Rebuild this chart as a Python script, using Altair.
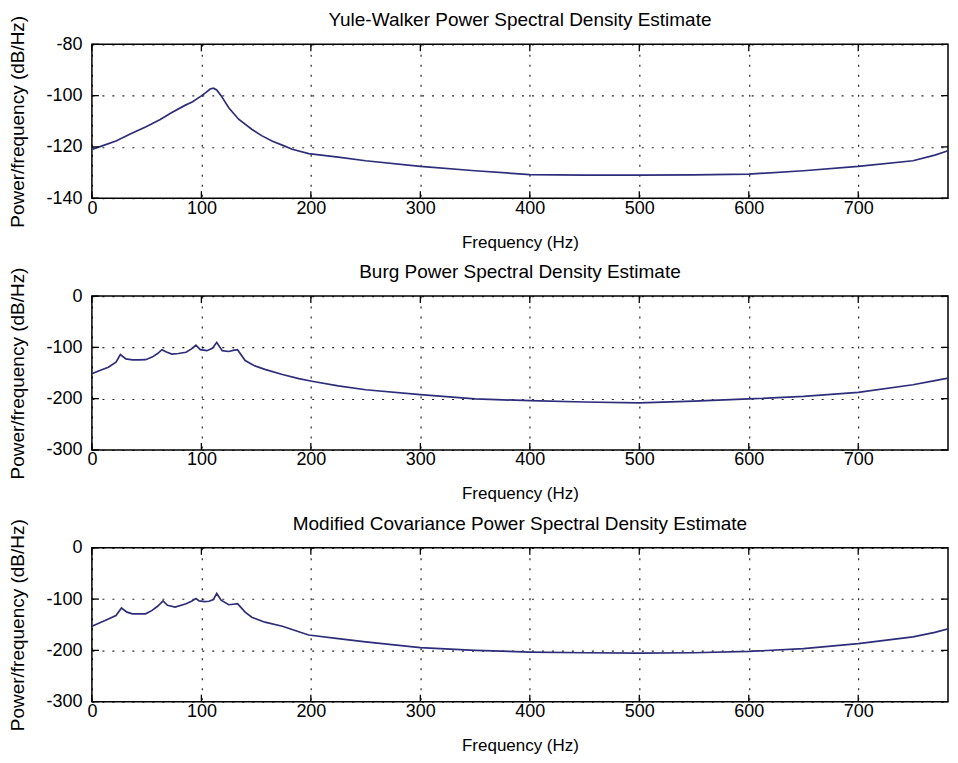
import altair as alt
import pandas as pd

# ---------------- data ----------------
yw_freq = [0, 10, 22, 35, 49, 62, 73, 85, 92, 100, 104, 108, 111, 114, 118, 125, 134, 146, 155, 165, 175, 183, 198,
           225, 250, 300, 350, 400, 450, 500, 550, 600, 650, 700, 750, 770, 780, 790]
yw_db = [-121.0, -119.5, -117.7, -115.0, -112.2, -109.4, -106.6, -103.8, -102.4, -100.1, -98.8, -97.4, -97.1, -97.8, -100.0,
         -104.7, -109.2, -113.1, -115.6, -117.8, -119.5, -120.9, -122.6, -124.0, -125.4, -127.6, -129.3, -130.8, -131.0,
         -131.0, -130.9, -130.6, -129.3, -127.6, -125.4, -123.2, -121.8, -119.8]

burg_freq = [0, 6, 15, 22, 26, 31, 37, 43, 49, 55, 60, 64, 68, 73, 79, 86, 91, 95, 99, 105, 110, 114, 119, 125, 129, 133,
             140, 148, 158, 174, 189, 201, 225, 250, 300, 350, 400, 450, 500, 550, 600, 650, 700, 750, 770, 790]
burg_db = [-151.6, -146.0, -138.7, -129.0, -114.0, -122.6, -124.5, -124.5, -124.0, -119.0, -112.0, -104.5, -109.0, -113.0,
           -112.0, -109.6, -103.0, -95.5, -104.5, -106.5, -102.0, -90.3, -106.5, -108.0, -106.0, -104.5, -125.8, -135.5,
           -143.0, -153.0, -161.0, -166.0, -175.0, -182.6, -192.0, -200.6, -203.9, -206.5, -208.4, -205.0, -200.6, -195.5,
           -187.7, -172.9, -165.0, -156.8]

mcov_freq = [0, 12, 22, 27, 32, 37, 43, 49, 55, 60, 65, 69, 76, 86, 91, 95, 98, 103, 107, 111, 114, 118, 125, 129, 133,
             140, 146, 158, 174, 189, 198, 225, 250, 300, 350, 400, 450, 500, 550, 600, 650, 700, 750, 770, 790]
mcov_db = [-153.0, -141.9, -132.0, -117.4, -125.4, -128.7, -128.7, -128.7, -122.0, -114.0, -103.6, -112.0, -115.4, -109.0,
           -104.0, -99.0, -103.5, -105.0, -104.2, -101.0, -89.0, -102.2, -111.0, -110.0, -109.0, -125.4, -135.3, -145.0,
           -153.0, -163.6, -170.0, -177.0, -183.5, -194.7, -200.0, -203.3, -204.6, -205.3, -204.6, -202.0, -196.7, -186.8,
           -173.6, -165.0, -153.8]

x_ticks = [0, 100, 200, 300, 400, 500, 600, 700]
yw_ticks = [-140, -120, -100, -80]
ar_ticks = [-300, -200, -100, 0]
titles = ["Yule-Walker Power Spectral Density Estimate",
          "Burg Power Spectral Density Estimate",
          "Modified Covariance Power Spectral Density Estimate"]
x_title = "Frequency (Hz)"
y_title = "Power/frequency (dB/Hz)"

# ---------------- style ----------------
W, H = 857, 154
X_MAX = 782
LINE = "#2d2d7a"
FONT = "Liberation Sans"
TICK = 7


def panel(freq, db, ydom, yticks, title):
    df = pd.DataFrame({"f": freq, "db": db})
    xs = alt.Scale(domain=[0, X_MAX], nice=False, zero=False)
    ys = alt.Scale(domain=ydom, nice=False, zero=False)
    xaxis = alt.Axis(values=x_ticks, title=x_title, grid=True, gridDash=[2, 8], gridColor="black",
                     gridOpacity=0.85, gridWidth=1.2, tickSize=0, labelPadding=1, domain=False,
                     labelFontSize=18, titleFontSize=17, titlePadding=17, labelFlush=False,
                     labelExpr="'' + datum.value")
    yaxis = alt.Axis(values=yticks, title=y_title, grid=True, gridDash=[2, 8], gridColor="black",
                     gridOpacity=0.85, gridWidth=1.2, tickSize=0, labelPadding=10, domain=False,
                     labelFontSize=18, titleFontSize=19, titlePadding=18, labelFlush=False,
                     labelExpr="'' + datum.value")
    line = alt.Chart(df).mark_line(color=LINE, strokeWidth=1.7, clip=True).encode(
        x=alt.X("f:Q", scale=xs, axis=xaxis),
        y=alt.Y("db:Q", scale=ys, axis=yaxis),
    )
    xt = pd.DataFrame({"f": x_ticks})
    yt = pd.DataFrame({"db": yticks})
    bottom = alt.Chart(xt).mark_rule(color="black", strokeWidth=1.3).encode(
        x=alt.X("f:Q", scale=xs), y=alt.value(H), y2=alt.value(H - TICK))
    top = alt.Chart(xt).mark_rule(color="black", strokeWidth=1.3).encode(
        x=alt.X("f:Q", scale=xs), y=alt.value(0), y2=alt.value(TICK))
    left = alt.Chart(yt).mark_rule(color="black", strokeWidth=1.3).encode(
        y=alt.Y("db:Q", scale=ys), x=alt.value(0), x2=alt.value(TICK))
    right = alt.Chart(yt).mark_rule(color="black", strokeWidth=1.3).encode(
        y=alt.Y("db:Q", scale=ys), x=alt.value(W - TICK), x2=alt.value(W))
    return alt.layer(line, bottom, top, left, right).properties(
        width=W, height=H,
        title=alt.Title(title, fontSize=19, fontWeight="normal", font=FONT, color="black",
                        offset=-30, baseline="alphabetic"),
    )


p1 = panel(yw_freq, yw_db, [-140, -80], yw_ticks, titles[0])
p2 = panel(burg_freq, burg_db, [-300, 0], ar_ticks, titles[1])
p3 = panel(mcov_freq, mcov_db, [-300, 0], ar_ticks, titles[2])

chart = alt.vconcat(p1, p2, p3, spacing=98, bounds="flush").properties(
    padding={"left": 0, "top": 2, "right": 0, "bottom": 0},
    background="white",
).configure_view(
    stroke="black", strokeWidth=1.5
).configure_axis(
    labelFont=FONT, titleFont=FONT, labelColor="black", titleColor="black",
    titleFontWeight="normal",
)

chart.save("out.html", embed_options={"renderer": "svg", "actions": False})
